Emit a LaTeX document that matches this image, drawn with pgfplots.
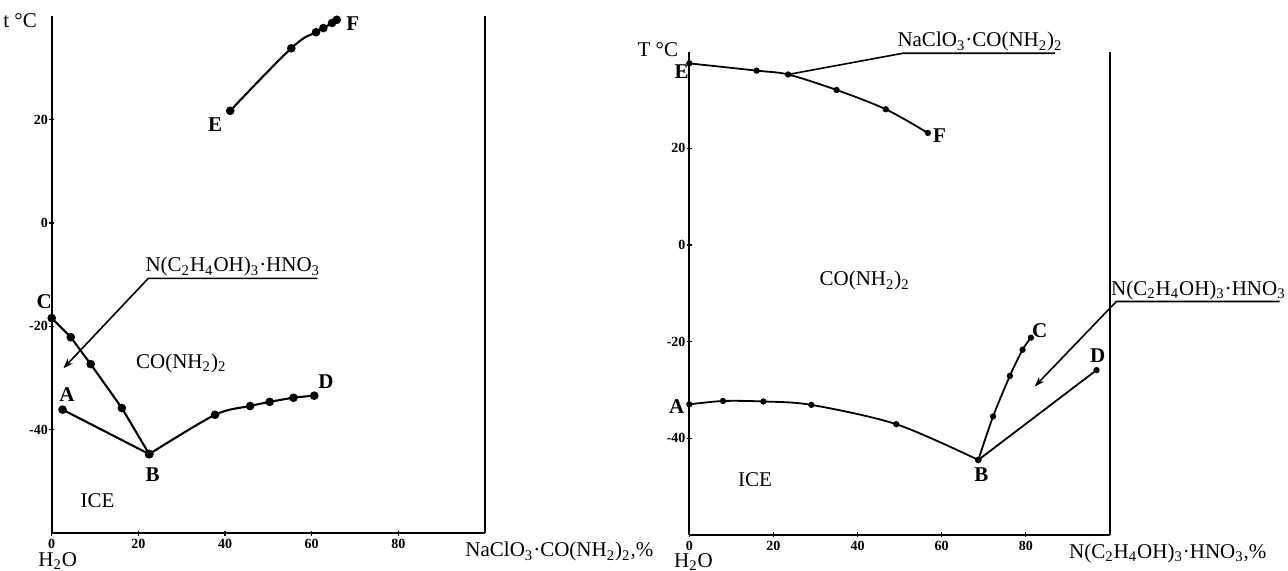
\documentclass[border=0pt]{standalone}
\usepackage{fontspec}
\setmainfont{Liberation Serif}
\usepackage{pgfplots}
\pgfplotsset{compat=1.18}
\usetikzlibrary{arrows.meta}
\newcommand{\sub}[1]{\textsubscript{#1}}
\tikzset{
 lbl/.style={font=\fontsize{10.5}{12}\selectfont},
 ltr/.style={font=\bfseries\fontsize{10.5}{12}\selectfont},
}
\begin{document}
\begin{tikzpicture}[x=1pt,y=1pt]
\pgfplotsset{
 base/.style={scale only axis, xmin=0, xmax=100, ymin=-60, ymax=40,
  axis x line=bottom, axis y line=left, axis line style={-, line width=0.95pt},
  xtick={0,20,40,60,80}, xticklabels={\raisebox{1.5pt}{0},20,40,60,80},
  ytick={-40,-20,0,20}, yticklabels={-40,-20,0,20},
  tick style={black, line width=0.6pt}, major tick length=2.5pt, tick align=center,
  ticklabel style={font=\bfseries\fontsize{7}{8}\selectfont, inner sep=0.5pt},
  xticklabel style={yshift=-1.2pt},
  clip=false},
 crv/.style={black, line width=1.05pt, mark=*, mark size=1.6pt, mark options={solid}},
 crvr/.style={black, line width=0.9pt, mark=*, mark size=1.1pt, mark options={solid}},
}
% ---------- left panel ----------
\begin{axis}[base, at={(25.85pt,18.9pt)}, anchor=south west, width=216.65pt, height=258.5pt]
\draw[line width=0.9pt] (axis cs:100,-60) -- (axis cs:100,40);
\addplot[crv, smooth, tension=0.7] coordinates {(41.2,21.7) (55.3,33.8) (61.0,36.9) (62.7,37.7) (64.7,38.7) (65.8,39.3)};
\addplot[crv] coordinates {(0,-18.4) (4.4,-22.1) (9.0,-27.3) (16.2,-35.8) (22.5,-44.7)};
\addplot[crv] coordinates {(2.5,-36.1) (22.5,-44.7)};
\addplot[crv, smooth] coordinates {(22.5,-44.7) (37.7,-37.1) (45.8,-35.4) (50.3,-34.6) (55.8,-33.8) (60.6,-33.4)};
\draw[line width=0.8pt, -{Stealth[length=5pt,width=3.5pt]}] (axis cs:61.3,-10.7) -- (axis cs:22.3,-10.7) -- (axis cs:2.7,-28.1);
\node[lbl, anchor=south, inner sep=0.8pt] at (axis cs:41.8,-10.7) {N(C\sub{2}H\sub{4}OH)\sub{3}·HNO\sub{3}};
\node[lbl, anchor=east] at (axis cs:-1.8,39.1) {t °C};
\node[ltr] at (axis cs:-1.7,-15.2) {C};
\node[ltr] at (axis cs:3.5,-33.2) {A};
\node[ltr] at (axis cs:23.3,-48.6) {B};
\node[ltr] at (axis cs:63.3,-30.7) {D};
\node[ltr] at (axis cs:37.7,19.0) {E};
\node[ltr] at (axis cs:69.5,38.5) {F};
\node[lbl] at (axis cs:10.6,-53.8) {ICE};
\node[lbl] at (axis cs:29.9,-27.2) {CO(NH\sub{2})\sub{2}};
\node[lbl, inner sep=0pt] at (axis cs:1.4,-65.4) {H\sub{2}O};
\node[lbl, anchor=west, inner sep=0pt] at (axis cs:95.4,-63.6) {NaClO\sub{3}·CO(NH\sub{2})\sub{2},\%};
\end{axis}
% ---------- right panel ----------
\begin{axis}[base, at={(344.65pt,18.1pt)}, anchor=south west, width=210.35pt, height=241.5pt]
\draw[line width=0.9pt] (axis cs:100,-60) -- (axis cs:100,40);
\addplot[crvr, smooth] coordinates {(0,37.6) (16.0,36.1) (23.5,35.3) (35.0,32.1) (46.7,28.1) (56.7,23.2)};
\addplot[crvr, smooth] coordinates {(0,-33.0) (8.0,-32.3) (17.6,-32.4) (29.0,-33.1) (49.2,-37.1) (68.7,-44.5)};
\addplot[crvr, smooth] coordinates {(68.7,-44.5) (72.2,-35.5) (76.2,-27.1) (79.2,-21.7) (81.2,-19.2)};
\addplot[crvr] coordinates {(68.7,-44.5) (96.8,-25.9)};
\draw[line width=0.8pt, -{Stealth[length=5pt,width=3.5pt]}] (axis cs:140.3,-11.7) -- (axis cs:101.5,-11.7) -- (axis cs:82.1,-29.3);
\node[lbl, anchor=south, inner sep=0.8pt] at (axis cs:121,-11.7) {N(C\sub{2}H\sub{4}OH)\sub{3}·HNO\sub{3}};
\draw[line width=0.8pt] (axis cs:86.9,39.7) -- (axis cs:50.8,39.7) -- (axis cs:23.5,35.3);
\node[lbl, anchor=south, inner sep=0.8pt] at (axis cs:69.1,39.7) {NaClO\sub{3}·CO(NH\sub{2})\sub{2}};
\node[lbl, anchor=east] at (axis cs:-1.0,40.4) {T °C};
\node[ltr] at (axis cs:-1.8,35.9) {E};
\node[ltr] at (axis cs:59.5,22.7) {F};
\node[ltr] at (axis cs:-3.0,-33.4) {A};
\node[ltr] at (axis cs:69.4,-47.6) {B};
\node[ltr] at (axis cs:83.3,-17.7) {C};
\node[ltr] at (axis cs:97.1,-22.9) {D};
\node[lbl] at (axis cs:15.6,-48.6) {ICE};
\node[lbl] at (axis cs:41.7,-7.4) {CO(NH\sub{2})\sub{2}};
\node[lbl, inner sep=0pt] at (axis cs:1.0,-65.6) {H\sub{2}O};
\node[lbl, anchor=west, inner sep=0pt] at (axis cs:90.2,-63.8) {N(C\sub{2}H\sub{4}OH)\sub{3}·HNO\sub{3},\%};
\end{axis}
\pgfresetboundingbox
\path[use as bounding box] (0,0) rectangle (644,285.5);
\end{tikzpicture}
\end{document}
